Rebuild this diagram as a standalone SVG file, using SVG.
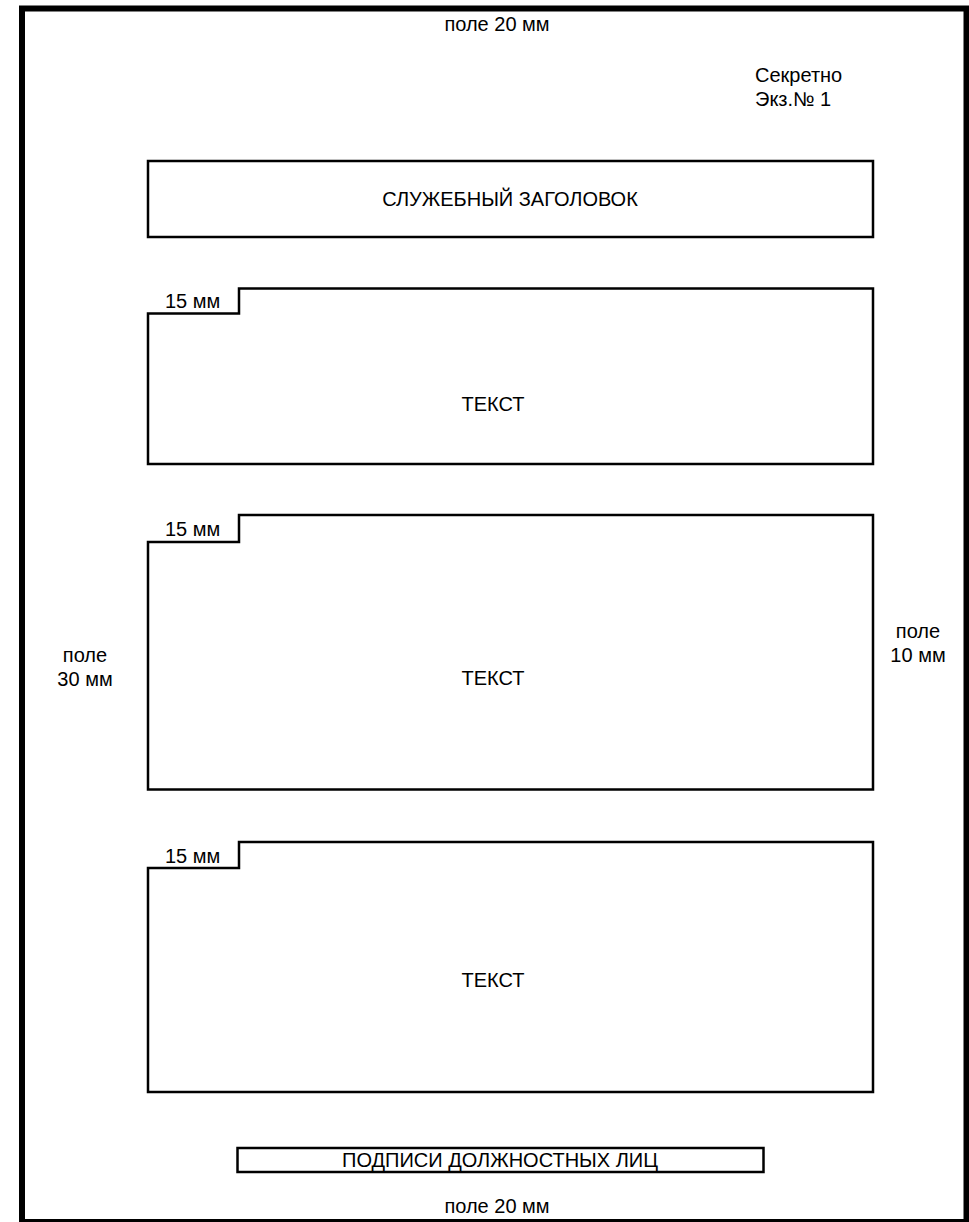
<svg xmlns="http://www.w3.org/2000/svg" width="969" height="1222" viewBox="0 0 969 1222">
<style>
.t{font-family:"Liberation Sans",Arial,sans-serif;font-size:20px;fill:#000}
.c{text-anchor:middle}
.b{fill:none;stroke:#000;stroke-width:2.5}
</style>
<rect width="969" height="1222" fill="#fff"/>
<g id="frame"><rect x="22" y="8.5" width="944.5" height="1213.5" fill="none" stroke="#000" stroke-width="6"/></g>
<g id="margin-top"><text class="t c" x="497" y="31">поле 20 мм</text></g>
<g id="stamp"><text class="t" x="755" y="82">Секретно</text><text class="t" x="755" y="106">Экз.№ 1</text></g>
<g id="header"><rect class="b" x="148" y="161" width="725" height="76"/><text class="t c" x="510" y="206">СЛУЖЕБНЫЙ ЗАГОЛОВОК</text></g>
<g id="text1"><path class="b" d="M148,464 V313.5 H239 V288.5 H873 V464 Z"/><text class="t" x="165" y="308">15 мм</text><text class="t c" x="493" y="411">ТЕКСТ</text></g>
<g id="text2"><path class="b" d="M148,789.5 V542 H239 V515 H873 V789.5 Z"/><text class="t" x="165" y="536">15 мм</text><text class="t c" x="493" y="685">ТЕКСТ</text></g>
<g id="text3"><path class="b" d="M148,1092 V868 H239 V842 H873 V1092 Z"/><text class="t" x="165" y="863">15 мм</text><text class="t c" x="493" y="987">ТЕКСТ</text></g>
<g id="signatures"><rect class="b" x="237.5" y="1148" width="526" height="24"/><text class="t c" x="500" y="1167">ПОДПИСИ ДОЛЖНОСТНЫХ ЛИЦ</text></g>
<g id="margin-left"><text class="t c" x="85" y="662">поле</text><text class="t c" x="85" y="686">30 мм</text></g>
<g id="margin-right"><text class="t c" x="918" y="638">поле</text><text class="t c" x="918" y="662">10 мм</text></g>
<g id="margin-bottom"><text class="t c" x="497" y="1213">поле 20 мм</text></g>
</svg>
